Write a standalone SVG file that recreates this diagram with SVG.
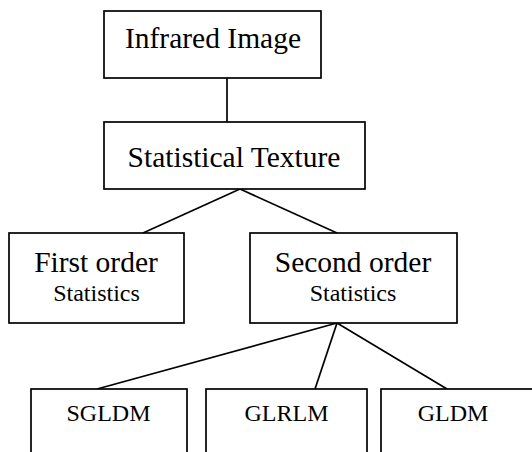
<svg xmlns="http://www.w3.org/2000/svg" width="532" height="452" viewBox="0 0 532 452">
<style>
.box{fill:#fff;stroke:#000;stroke-width:1.7}
.ln{stroke:#000;stroke-width:1.7;fill:none}
text{font-family:"Liberation Serif","Times New Roman",serif;fill:#000;text-anchor:middle}
.big{font-size:29.5px}
.small{font-size:24px}
</style>
<rect width="532" height="452" fill="#fff"/>
<g id="connectors">
<line class="ln" x1="227" y1="78" x2="227" y2="122"/>
<line class="ln" x1="240" y1="189" x2="143" y2="233"/>
<line class="ln" x1="240" y1="189" x2="337" y2="233"/>
<line class="ln" x1="337" y1="323" x2="97" y2="389"/>
<line class="ln" x1="337" y1="323" x2="315" y2="389"/>
<line class="ln" x1="337" y1="323" x2="447" y2="389"/>
</g>
<g id="infrared">
<rect class="box" x="104" y="11" width="217" height="67"/>
<text class="big" x="213" y="48">Infrared Image</text>
</g>
<g id="statistical">
<rect class="box" x="104" y="122" width="261" height="67"/>
<text class="big" x="234" y="167">Statistical Texture</text>
</g>
<g id="first">
<rect class="box" x="9" y="233" width="175" height="90"/>
<text class="big" x="96" y="272">First order</text>
<text class="small" x="96.5" y="301">Statistics</text>
</g>
<g id="second">
<rect class="box" x="250" y="233" width="207" height="90"/>
<text class="big" x="353" y="272">Second order</text>
<text class="small" x="353" y="301">Statistics</text>
</g>
<g id="sgldm">
<rect class="box" x="31" y="389" width="156" height="80"/>
<text class="small" x="108.5" y="421">SGLDM</text>
</g>
<g id="glrlm">
<rect class="box" x="206" y="389" width="161" height="80"/>
<text class="small" x="286.5" y="421">GLRLM</text>
</g>
<g id="gldm">
<rect class="box" x="381" y="389" width="170" height="80"/>
<text class="small" x="453" y="421">GLDM</text>
</g>
</svg>
